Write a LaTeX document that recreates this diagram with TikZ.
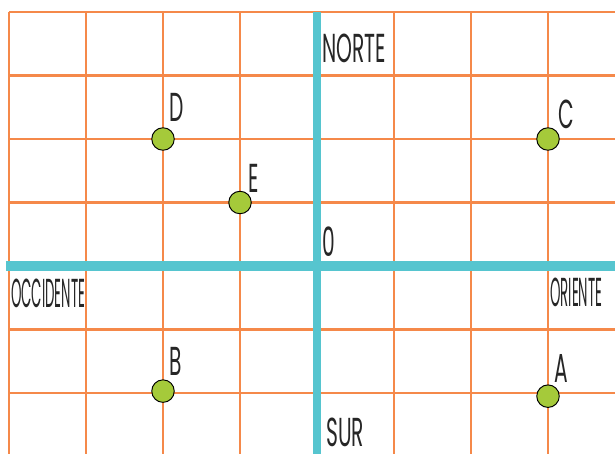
\documentclass[tikz,border=0pt]{standalone}
\usepackage{fontspec}
\setmainfont{Poppins}[FakeStretch=0.50]
\newfontfamily\narrowfont{Poppins}[FakeStretch=0.33]
\usepackage{xcolor}
\definecolor{gridOrange}{HTML}{F5894A}
\definecolor{axisTeal}{HTML}{56C5CF}
\definecolor{dotGreen}{HTML}{A5CA3A}
\usepackage{tikz}

\tikzset{
  gridline/.style={gridOrange, line width=2.3pt},
  axisline/.style={axisTeal},
  dot/.style={circle, draw=black, line width=1.1pt, fill=dotGreen,
    minimum size=0.9cm, inner sep=0pt},
  tag/.style={anchor=base west, inner sep=0pt, text depth=0pt,
    text=black!85, font=\fontsize{46}{46}\selectfont},
  sidetag/.style={tag, font=\fontsize{46}{46}\selectfont\narrowfont},
}

\begin{document}
\begin{tikzpicture}[x=3.08cm, y=2.54cm]
\useasboundingbox (-4.117,-2.961) rectangle (3.870,4.189);
% ---------- the grid ----------
\foreach \x in {-4,...,3} {
  \draw[gridline] (\x,4) -- (\x,-2.961);
}
\foreach \y in {-2,...,4} {
  \draw[gridline] (-4,\y) -- (3.870,\y);
}
% ---------- the two axes ----------
\draw[axisline, line width=11pt] (-4.04,0) -- (3.870,0);
\draw[axisline, line width=8pt] (0,4) -- (0,-2.961);
% ---------- axis labels ----------
\node[tag] (norte) at (0.065,3.197) {NORTE};
\node[tag] (origen) at (0.065,0.142) {0};
\node[sidetag] (occidente) at (-3.974,-0.646) {OCCIDENTE};
\node[sidetag] (oriente) at (3.026,-0.630) {ORIENTE};
\node[tag] (sur) at (0.117,-2.840) {SUR};
% ---------- the points ----------
\node[dot] (ptD) at (-2,2) {};
\node[dot] (ptE) at (-1,1) {};
\node[dot] (ptC) at (3,2) {};
\node[dot] (ptB) at (-2,-1.97) {};
\node[dot] (ptA) at (3,-2.05) {};
\node[tag] (lblD) at (-1.922,2.268) {D};
\node[tag] (lblE) at (-0.896,1.150) {E};
\node[tag] (lblC) at (3.130,2.170) {C};
\node[tag] (lblB) at (-1.922,-1.717) {B};
\node[tag] (lblA) at (3.078,-1.827) {A};
\end{tikzpicture}
\end{document}
